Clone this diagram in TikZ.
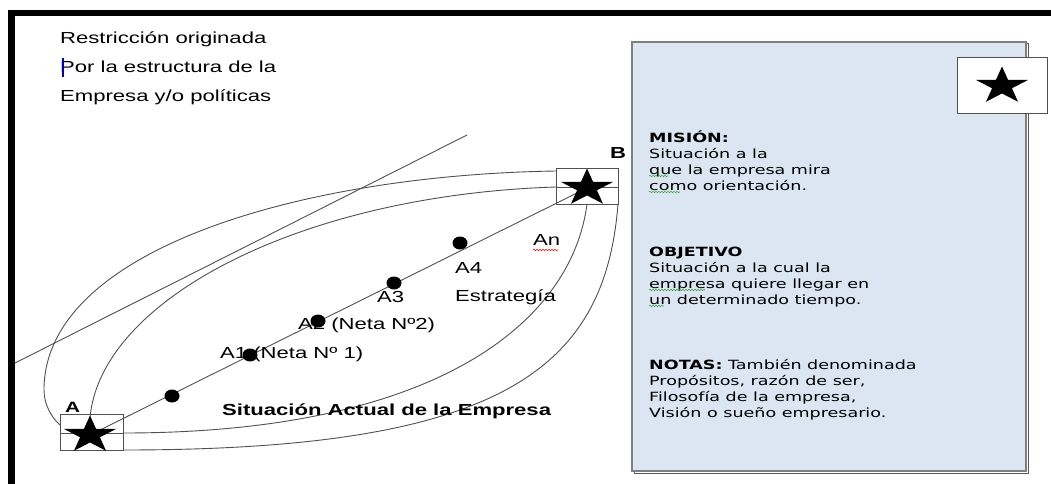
\documentclass[tikz,border=0pt]{standalone}
\usepackage{fontspec}
\setmainfont{Liberation Sans}[FakeStretch=1.38]
\newfontfamily\verdana{DejaVu Sans}[FakeStretch=1.38]
\usetikzlibrary{shapes.geometric,decorations.pathmorphing}
\definecolor{azulcaja}{HTML}{DCE6F2}
\definecolor{grislinea}{HTML}{505050}
\definecolor{bordecaja}{HTML}{7F7F7F}
\definecolor{verdecorr}{HTML}{3FA33F}

\begin{document}
\begin{tikzpicture}[x=1pt,y=-1pt,
    texto/.style={anchor=west, inner sep=0, font=\fontsize{16}{19}\selectfont},
    nota/.style={anchor=north west, inner sep=0, align=left, font=\verdana\fontsize{12.7}{16}\selectfont},
    curva/.style={draw=grislinea, line width=0.9pt},
    caja/.style={draw=grislinea, line width=0.8pt},
    pics/estrella/.style={code={
      \fill[xscale=1.4] (0,-19.5) \foreach \k in {1,...,9} {-- ({-90+36*\k}:{isodd(\k)*7.45+(1-isodd(\k))*19.5})} -- cycle;}},
    punto/.style={ellipse, fill=black, inner sep=0, minimum width=15pt, minimum height=13pt},
    corrector/.style={decorate, decoration={snake, amplitude=0.7pt, segment length=3pt}, line width=0.6pt}]
  \useasboundingbox (0,0) rectangle (1051,484);
  % marco
  \fill (8,10) rectangle (1051,16);
  \fill (8,10) rectangle (15,484);
  % texto de la restriccion
  \node[texto] (restr1) at (60,39) {Restricción originada};
  \node[texto] (restr2) at (60,67) {Por la estructura de la};
  \node[texto] (restr3) at (60,97) {Empresa y/o políticas};
  \draw[blue!70!black, line width=1.2pt] (63,58) -- (63,77);
  % caja de notas
  \draw[bordecaja!70!black, line width=1pt] (634,44) rectangle (1028,473);
  \draw[draw=bordecaja, fill=azulcaja, line width=1.2pt] (632,42) rectangle (1026,471);
  \draw[caja, fill=white] (957,57) rectangle (1047,113);
  \pic at (1002,86) {estrella};
  \node[nota] (mision) at (649,131) {\textbf{MISIÓN:}\\Situación a la\\que la empresa mira\\como orientación.};
  \node[nota] (objetivo) at (649,247) {\textbf{OBJETIVO}\\Situación a la cual la\\empresa quiere llegar en\\un determinado tiempo.};
  \node[nota] (notas) at (649,359) {\textbf{NOTAS:} También denominada\\Propósitos, razón de ser,\\Filosofía de la empresa,\\Visión o sueño empresario.};
  \draw[corrector, verdecorr] (649,176) -- (668,176);
  \draw[corrector, verdecorr] (649,192) -- (680,192);
  \draw[corrector, verdecorr] (649,290) -- (705,290);
  \draw[corrector, verdecorr] (649,306) -- (664,306);
  % puntos de anclaje
  \coordinate (cA) at (90,435);
  \coordinate (cB) at (587,188);
  \coordinate (r1) at (15,363);
  \coordinate (r2) at (467,135);
  \coordinate (aIni) at (556,171);
  \coordinate (aFin) at (60,425);
  \coordinate (bIni) at (556,187);
  \coordinate (bFin) at (90,418);
  \coordinate (cIni) at (587,204);
  \coordinate (cFin) at (123,433);
  \coordinate (dIni) at (618,204);
  \coordinate (dFin) at (123,450);
  % curvas
  \draw[curva] (r1) -- (r2);
  \draw[curva] (aIni) .. controls (300,175) and (44,250) .. (44,390) .. controls (44,405) and (52,418) .. (aFin);
  \draw[curva] (bIni) .. controls (300,195) and (100,300) .. (bFin);
  \draw[curva] (cFin) .. controls (440,433) and (572,320) .. (cIni);
  \draw[curva] (dFin) .. controls (500,450) and (605,370) .. (dIni);
  \draw[curva] (cA) -- (cB);
  % cajas de las estrellas
  \draw[caja] (60,414) rectangle (123,450) (60,433) -- (123,433);
  \draw[caja] (556,168) rectangle (618,204) (556,187) -- (618,187);
  \pic at (cA) {estrella};
  \pic at (cB) {estrella};
  \node[texto, font=\bfseries\fontsize{15}{17}\selectfont] (letraA) at (65,407) {A};
  \node[texto, font=\bfseries\fontsize{16}{18}\selectfont] (letraB) at (610,153) {B};
  % acciones
  \node[punto] (p0) at (172,396) {};
  \node[punto] (p1) at (250,355) {};
  \node[punto] (p2) at (318,321) {};
  \node[punto] (p3) at (394,283) {};
  \node[punto] (p4) at (460,243) {};
  \node[texto] (lA1) at (220,354) {A1 (Neta Nº 1)};
  \node[texto] (lA2) at (298,325) {A2 (Neta Nº2)};
  \node[texto] (lA3) at (377,297) {A3};
  \node[texto] (lA4) at (455,268) {A4};
  \node[texto] (lEstr) at (455,297) {Estrategía};
  \node[texto] (lAn) at (533,240) {An};
  \draw[corrector, red] (533,250) -- (558,250);
  \node[texto, font=\bfseries\fontsize{16}{19}\selectfont] (actual) at (222,411) {Situación Actual de la Empresa};
\end{tikzpicture}
\end{document}
